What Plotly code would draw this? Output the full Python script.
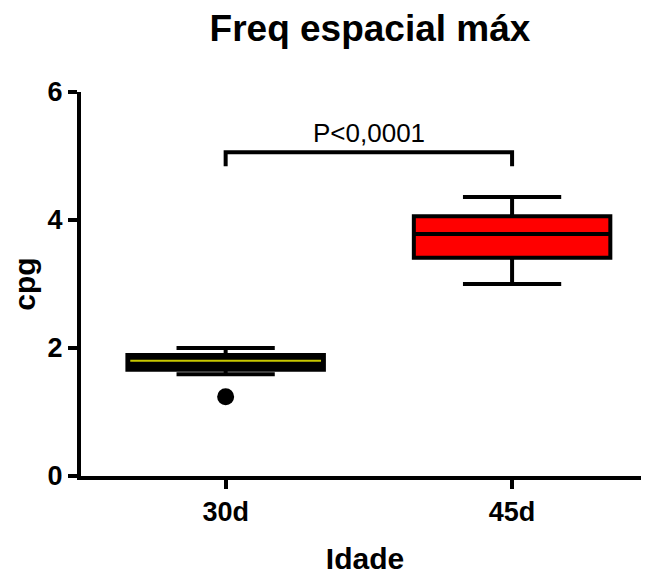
import plotly.graph_objects as go

# ---- data ----
groups = ["30d", "45d"]
group_pos = [0, 1]
q1 = [1.66, 3.41]
median = [1.80, 3.78]
q3 = [1.89, 4.06]
lower_whisker = [1.59, 3.00]
upper_whisker = [2.00, 4.36]
fill_colors = ["black", "red"]
median_colors = ["#c8c800", "black"]
outlier_pos = [0]
outlier_vals = [1.24]

y_ticks = [0, 2, 4, 6]
sig_text = "P<0,0001"
sig_bar_y = 5.06
sig_tip_y = 4.84
sig_text_y = 5.36

FONT = "Liberation Sans, Arial, Helvetica, sans-serif"
BOX_W = 0.686
LW = 4
W, H = 641, 567  # page body has an 8px margin

fig = go.Figure()

for i, g in enumerate(groups):
    fig.add_trace(go.Box(
        x=[group_pos[i]], q1=[q1[i]], median=[median[i]], q3=[q3[i]],
        lowerfence=[lower_whisker[i]], upperfence=[upper_whisker[i]],
        width=BOX_W, whiskerwidth=0.5,
        fillcolor=fill_colors[i],
        line=dict(color="black", width=LW),
        boxpoints=False, name=g, showlegend=False, hoverinfo="skip",
    ))

# coloured median line (30d has a yellow median line)
for i, g in enumerate(groups):
    if median_colors[i] != "black":
        fig.add_trace(go.Scatter(
            x=[group_pos[i] - BOX_W / 2 + 0.01, group_pos[i] + BOX_W / 2 - 0.01],
            y=[median[i], median[i]], mode="lines",
            line=dict(color=median_colors[i], width=2),
            showlegend=False, hoverinfo="skip",
        ))

# outlier
fig.add_trace(go.Scatter(
    x=outlier_pos, y=outlier_vals, mode="markers",
    marker=dict(color="black", size=17, symbol="circle"),
    showlegend=False, hoverinfo="skip",
))

# significance bracket
fig.add_trace(go.Scatter(
    x=[group_pos[0], group_pos[0], group_pos[1], group_pos[1]],
    y=[sig_tip_y, sig_bar_y, sig_bar_y, sig_tip_y],
    mode="lines", line=dict(color="black", width=LW),
    showlegend=False, hoverinfo="skip",
))
fig.add_annotation(
    x=(group_pos[0] + group_pos[1]) / 2, y=sig_text_y, text=sig_text,
    showarrow=False, font=dict(family=FONT, size=26, color="black"),
    xanchor="center", yanchor="middle",
)

fig.update_layout(
    width=W, height=H,
    margin=dict(l=73, r=0, t=84, b=99),
    plot_bgcolor="white", paper_bgcolor="white",
    showlegend=False,
    title=dict(text="<b>Freq espacial máx</b>", xref="container", x=362 / W,
               xanchor="center", yref="container", y=1 - 20 / H, yanchor="middle",
               font=dict(family=FONT, size=37, color="black")),
    font=dict(family=FONT, color="black"),
)

fig.update_xaxes(
    range=[-0.505, 1.478], tickmode="array", tickvals=group_pos,
    ticktext=["<b>%s</b>" % g for g in groups],
    tickfont=dict(family=FONT, size=27, color="black"),
    showline=True, linecolor="black", linewidth=LW,
    ticks="outside", ticklen=9, tickwidth=LW, tickcolor="black",
    showgrid=False, zeroline=False, automargin=False,
    title=dict(text="<b>Idade</b>", font=dict(family=FONT, size=30, color="black"), standoff=32),
)
fig.update_yaxes(
    range=[0, 6], tickmode="array", tickvals=y_ticks,
    ticktext=["<b>%d</b>" % v for v in y_ticks],
    tickfont=dict(family=FONT, size=27, color="black"),
    showline=True, linecolor="black", linewidth=LW,
    ticks="outside", ticklen=9, tickwidth=LW, tickcolor="black",
    showgrid=False, zeroline=False, automargin=False,
    title=dict(text="<b>cpg</b>", font=dict(family=FONT, size=30, color="black"), standoff=7),
)

fig.write_html("out.html")
